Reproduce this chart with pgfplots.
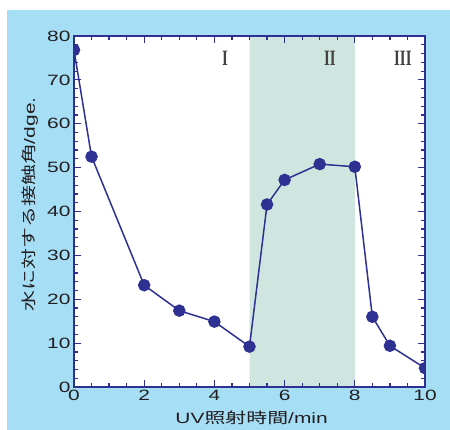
\documentclass[border=0pt]{standalone}
\usepackage{pgfplots}
\pgfplotsset{compat=1.18}
\usepackage{fontspec}
\setmainfont{Liberation Sans}
\newfontfamily\tickfont[FakeStretch=1.4]{Liberation Sans}
\newfontfamily\cjk[FakeStretch=1.4]{Noto Sans CJK JP}
\newfontfamily\romanfont[FakeStretch=0.68]{Liberation Serif}
\definecolor{bgblue}{HTML}{A6DEF6}
\definecolor{shade}{HTML}{CFE6E0}
\definecolor{navy}{HTML}{2E3192}
\definecolor{txt}{HTML}{231F20}
\begin{document}
\begin{tikzpicture}
\path[use as bounding box, fill=white] (-74bp,-43bp) rectangle (376bp,387bp);
\fill[bgblue] (-67bp,-43bp) rectangle (376bp,377bp);
\begin{axis}[
  at={(0,0)}, anchor=south west,
  scale only axis, width=351bp, height=351bp,
  xmin=0, xmax=10, ymin=0, ymax=80,
  xtick={0,2,...,10}, ytick={0,10,...,80},
  minor x tick num=3, minor y tick num=4,
  tick align=inside, major tick length=7bp, minor tick length=4bp,
  axis line style={navy, line width=1.5bp},
  every tick/.append style={navy, line width=1.2bp},
  tick label style={font=\tickfont\fontsize{15}{18}\selectfont, text=txt},
  /pgf/number format/assume math mode=true,
  axis background/.style={fill=white},
  axis on top,
  clip mode=individual,
  clip marker paths=true,
  xlabel={{\tickfont UV}{\cjk 照射時間}{\tickfont /min}},
  ylabel={{\cjk 水に対する接触角}{\tickfont /dge.}},
  xlabel style={font=\fontsize{15}{18}\selectfont, text=txt, at={(axis description cs:0.506,-0.088)}, anchor=center},
  ylabel style={font=\fontsize{15}{18}\selectfont, text=txt, at={(axis description cs:-0.125,0.52)}, anchor=center},
]
\addplot[draw=none, fill=shade, forget plot] coordinates {(5,0) (5,80) (8,80) (8,0)} \closedcycle;
\addplot[navy, line width=1.5bp, mark=*, mark size=5.5bp, mark options={fill=navy, draw=navy}] coordinates {
(0,76.8) (0.5,52.5) (2,23.2) (3,17.4) (4,14.9) (5,9.2) (5.5,41.6) (6,47.2) (7,50.8) (8,50.2) (8.5,16.0) (9,9.4) (10,4.3)
};
\node[font=\romanfont\bfseries\fontsize{22}{22}\selectfont, text=txt!85] at (axis cs:4.3,74.8) {I};
\node[font=\romanfont\bfseries\fontsize{22}{22}\selectfont, text=txt!85] at (axis cs:7.29,74.8) {II};
\node[font=\romanfont\bfseries\fontsize{22}{22}\selectfont, text=txt!85] at (axis cs:9.37,74.8) {III};
\end{axis}
\end{tikzpicture}
\end{document}
